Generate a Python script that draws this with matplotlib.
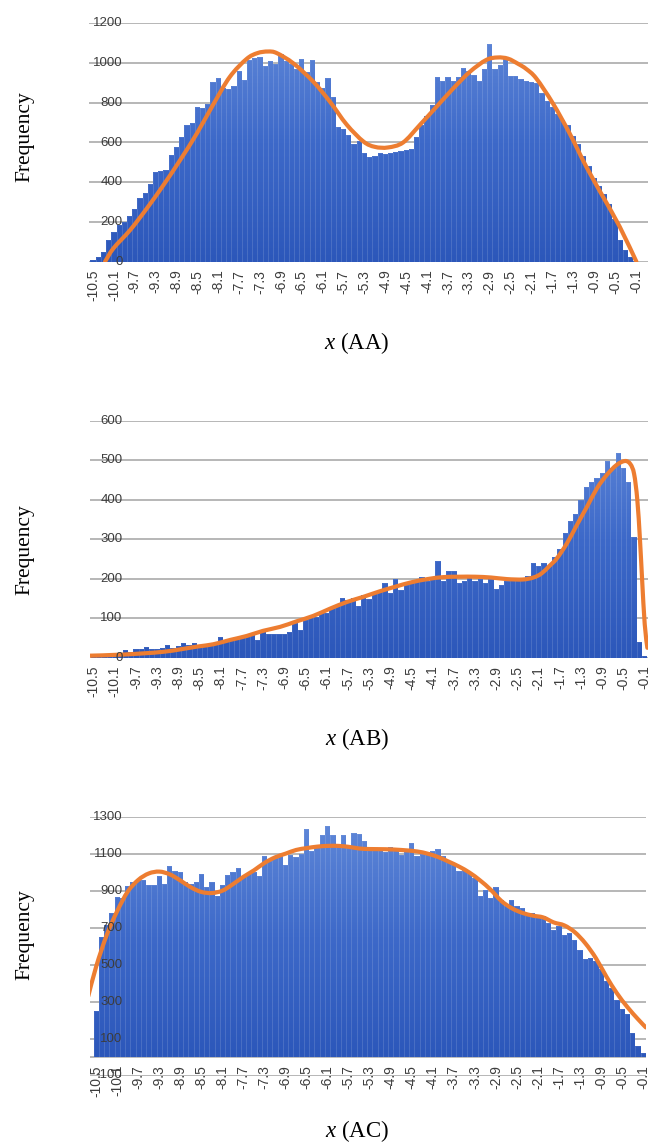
import numpy as np
import matplotlib
matplotlib.use("Agg")
import matplotlib.pyplot as plt
from matplotlib.path import Path
from matplotlib.patches import PathPatch
from matplotlib.colors import LinearSegmentedColormap
import matplotlib.transforms as mtransforms

# ---------------- data ----------------
categories = np.round(-10.5 + 0.1 * np.arange(105), 1)     # bin centres -10.5 ... -0.1
tick_labels = [f"{v:.1f}" for v in categories[::4]]

aa_counts = [10, 25, 50, 110, 150, 185, 200, 230, 265, 320, 345, 390, 450, 455, 460,
             535, 575, 630, 690, 700, 780, 775, 795, 905, 925, 875, 870, 885, 960, 915,
             1015, 1025, 1030, 985, 1010, 995, 1045, 1010, 995, 970, 1020, 955, 1015, 905, 875,
             925, 830, 680, 670, 640, 590, 610, 545, 525, 530, 545, 540, 545, 550, 555,
             560, 565, 630, 690, 735, 790, 930, 910, 930, 910, 930, 975, 960, 940, 910,
             970, 1095, 970, 990, 1030, 935, 935, 920, 910, 905, 900, 850, 810, 780, 745,
             715, 690, 635, 590, 530, 480, 420, 380, 340, 290, 215, 110, 60, 25, 5]

ab_counts = [5, 10, 10, 8, 8, 10, 20, 15, 23, 23, 27, 22, 22, 25, 33,
             25, 30, 37, 33, 38, 30, 32, 33, 38, 52, 45, 47, 48, 52, 55,
             58, 45, 70, 60, 60, 60, 60, 65, 88, 70, 95, 105, 102, 115, 113,
             125, 130, 150, 145, 150, 132, 160, 148, 165, 170, 188, 165, 200, 172, 185,
             192, 195, 205, 195, 205, 245, 195, 220, 220, 190, 195, 210, 195, 200, 190,
             200, 175, 185, 195, 197, 200, 203, 208, 240, 232, 240, 232, 255, 275, 315,
             345, 365, 400, 431, 445, 456, 467, 498, 480, 517, 480, 445, 306, 40, 5]

ac_counts = [250, 650, 715, 780, 865, 860, 925, 945, 955, 960, 930, 930, 980, 935, 1035,
             1005, 1000, 945, 935, 945, 990, 920, 945, 870, 930, 985, 1000, 1020, 975, 990,
             1000, 980, 1085, 1060, 1075, 1085, 1040, 1095, 1080, 1100, 1235, 1115, 1140, 1200, 1250,
             1200, 1155, 1200, 1140, 1210, 1205, 1170, 1135, 1130, 1130, 1110, 1137, 1120, 1093, 1124,
             1160, 1085, 1100, 1110, 1115, 1124, 1085, 1057, 1040, 1004, 1010, 995, 968, 870, 905,
             860, 922, 851, 815, 851, 818, 806, 779, 779, 770, 761, 725, 689, 707, 662,
             671, 635, 581, 531, 537, 518, 474, 411, 375, 311, 258, 231, 132, 60, 20]

aa_curve_x = [-10.27, -10.11, -9.79, -9.47, -9.15, -8.83, -8.51, -8.2, -7.88, -7.56, -7.35,
              -7.15, -6.98, -6.66, -6.28, -5.96, -5.64, -5.32, -5.1, -4.85, -4.56, -4.24,
              -3.92, -3.6, -3.28, -2.97, -2.75, -2.55, -2.35, -2.2, -2.01, -1.69, -1.37,
              -1.05, -0.73, -0.41, -0.09]
aa_curve_y = [0, 67, 159, 268, 386, 512, 646, 790, 930, 1020, 1050,
              1058, 1050, 998, 906, 805, 690, 605, 578, 575, 600, 688,
              780, 872, 956, 1015, 1028, 1022, 995, 970, 923, 797, 646,
              478, 327, 176, 0]

ab_curve_x = [-10.6, -9.94, -9.18, -8.55, -8.24, -7.92, -7.61, -7.3, -6.98, -6.67, -6.35,
              -6.04, -5.72, -5.41, -5.1, -4.8, -4.5, -4.2, -3.9, -3.6, -3.3, -3.0, -2.7,
              -2.4, -2.2, -2.05, -1.9, -1.76, -1.57, -1.38, -1.19, -1.0, -0.82, -0.63,
              -0.47, -0.37, -0.3, -0.24, -0.19, -0.15, -0.1, -0.05]
ab_curve_y = [5, 8, 15, 28, 34, 45, 55, 68, 78, 92, 106,
              124, 141, 154, 168, 180, 191, 199, 204, 205, 205, 203, 199,
              198, 203, 213, 232, 251, 289, 336, 382, 429, 462, 488,
              498, 490, 465, 400, 300, 200, 85, 25]

ac_curve_x = [-10.65, -10.5, -10.3, -10.1, -9.9, -9.7, -9.5, -9.3, -9.1, -8.9, -8.7, -8.5,
              -8.3, -8.1, -7.9, -7.7, -7.5, -7.3, -7.1, -6.9, -6.7, -6.5, -6.3, -6.1,
              -5.9, -5.7, -5.5, -5.3, -5.0, -4.7, -4.4, -4.2, -4.0, -3.8, -3.6, -3.4,
              -3.2, -3.0, -2.8, -2.6, -2.4, -2.2, -2.0, -1.8, -1.6, -1.4, -1.2, -1.0,
              -0.8, -0.6, -0.4, -0.2, -0.05]
ac_curve_y = [330, 490, 660, 790, 895, 958, 993, 1003, 988, 955, 918, 893,
              887, 900, 935, 975, 1010, 1050, 1080, 1100, 1120, 1130, 1138, 1142,
              1142, 1137, 1128, 1125, 1124, 1120, 1112, 1100, 1082, 1057, 1030, 997,
              955, 905, 845, 805, 780, 765, 755, 728, 712, 675, 615, 535,
              435, 345, 270, 205, 160]

panel_names = ["AA", "AB", "AC"]
panel_counts = [aa_counts, ab_counts, ac_counts]
panel_curves = [(aa_curve_x, aa_curve_y), (ab_curve_x, ab_curve_y), (ac_curve_x, ac_curve_y)]
panel_yticks = [list(range(0, 1201, 200)), list(range(0, 601, 100)), list(range(-100, 1301, 200))]

# ---------------- layout (pixels) ----------------
W, H = 650, 1145
layouts = [  # left, right, top, bottom, xlim
    dict(l=89, r=648, t=23.3, b=261.7, xlim=(-10.577, 0.132)),
    dict(l=89.5, r=648, t=420.7, b=657.7, xlim=(-10.575, -0.038)),
    dict(l=90, r=646, t=816.7, b=1075.5, xlim=(-10.618, -0.047)),
]
xtitle_y = [343, 739, 1131]
ylabel_y = [137, 550, 935]

GRID = "#a3a3a3"
TICKC = "#3c3c3c"
ORANGE = "#ED7D31"
cmap = LinearSegmentedColormap.from_list("bars", ["#2c57ba", "#3d69c9", "#6189d9"])

plt.rcParams["mathtext.fontset"] = "custom"
plt.rcParams["mathtext.it"] = "Liberation Serif:italic"
plt.rcParams["mathtext.rm"] = "Liberation Serif"

fig = plt.figure(figsize=(W / 100, H / 100), dpi=100)


def smooth_path(xs, ys):
    pts = np.column_stack([xs, ys]).astype(float)
    ext = np.vstack([pts[0], pts, pts[-1]])
    verts = [pts[0]]
    codes = [Path.MOVETO]
    for i in range(1, len(ext) - 2):
        p0, p1, p2, p3 = ext[i - 1], ext[i], ext[i + 1], ext[i + 2]
        c1 = p1 + (p2 - p0) / 6.0
        c2 = p2 - (p3 - p1) / 6.0
        verts += [c1, c2, p2]
        codes += [Path.CURVE4] * 3
    return Path(verts, codes)


for k in range(3):
    L = layouts[k]
    ax = fig.add_axes([L["l"] / W, 1 - L["b"] / H, (L["r"] - L["l"]) / W, (L["b"] - L["t"]) / H])
    counts = panel_counts[k]
    yt = panel_yticks[k]
    ylo, yhi = yt[0], yt[-1]

    for s in ax.spines.values():
        s.set_visible(False)
    ax.set_xticks([])
    ax.set_yticks(yt)
    ax.tick_params(axis="y", length=0, labelleft=False)
    ax.yaxis.grid(True, color=GRID, linewidth=1.1)
    ax.set_axisbelow(True)
    if ylo < 0:
        ax.axhline(0, color=GRID, linewidth=1.1, zorder=1)

    bars = ax.bar(categories, counts, width=0.1, facecolor="none",
                  edgecolor=(1, 1, 1, 0.13), linewidth=0.4, zorder=3)
    clip = Path.make_compound_path(*[b.get_path().transformed(b.get_patch_transform()) for b in bars])
    grad = np.linspace(0, 1, 256).reshape(-1, 1)
    im = ax.imshow(grad, extent=(L["xlim"][0], L["xlim"][1], 0, yhi), origin="lower",
                   cmap=cmap, aspect="auto", interpolation="bilinear", zorder=2)
    im.set_clip_path(clip, ax.transData)

    cx, cy = panel_curves[k]
    ax.add_patch(PathPatch(smooth_path(cx, cy), facecolor="none", edgecolor=ORANGE,
                           linewidth=3.0, capstyle="round", joinstyle="round", zorder=4))

    ax.set_xlim(*L["xlim"])
    ax.set_ylim(ylo, yhi)

    # y tick labels drawn inside the plot, right aligned near x = 122 px
    frac = (122.5 - L["l"]) / (L["r"] - L["l"])
    btr = mtransforms.blended_transform_factory(ax.transAxes, ax.transData)
    for v in yt:
        ax.text(frac, v, str(v), transform=btr, ha="right", va="center", fontsize=9.5,
                family="Liberation Sans", color=TICKC, zorder=6, clip_on=False)

    # x category labels under the zero line
    off = mtransforms.offset_copy(ax.transData, fig=fig, x=0, y=-8, units="dots")
    for xv, lab in zip(categories[::4], tick_labels):
        ax.text(xv, 0, lab, transform=off, rotation=90, ha="center", va="top",
                fontsize=10, family="Liberation Sans", color=TICKC, zorder=6, clip_on=False)

    fig.text(357 / W, 1 - xtitle_y[k] / H, rf"$x$ ({panel_names[k]})", ha="center", va="center",
             fontsize=16.5, family="Liberation Serif", color="black")
    fig.text(25 / W, 1 - ylabel_y[k] / H, "Frequency", rotation=90, ha="center", va="center",
             fontsize=15.5, family="Liberation Serif", color="black")

fig.savefig("out.png", dpi=100)
